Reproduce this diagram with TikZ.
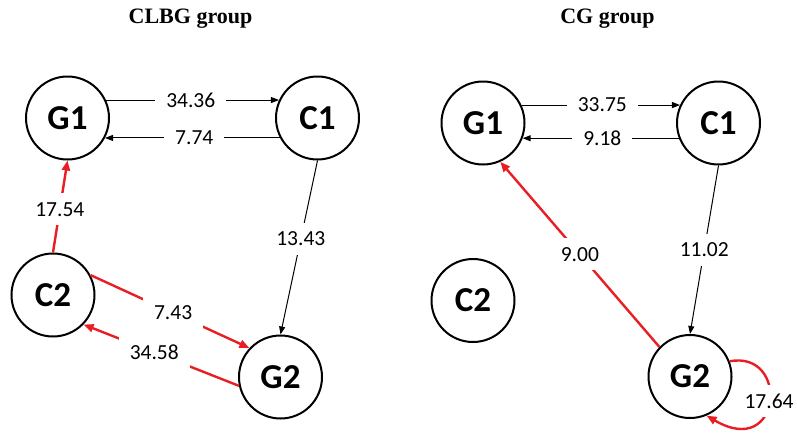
\documentclass[tikz,border=0pt]{standalone}
\usepackage{fontspec}
\setmainfont{Carlito}
\newfontfamily\titlefont{Liberation Serif}
\usetikzlibrary{arrows.meta}
\definecolor{edgered}{RGB}{232,30,36}
\begin{document}
\begin{tikzpicture}[x=1pt,y=-1pt,
  state/.style={circle,draw,line width=2pt,minimum size=83pt,inner sep=0pt,font=\fontsize{35}{35}\selectfont\bfseries},
  lbl/.style={fill=white,text=black,inner xsep=11pt,inner ysep=9pt,font=\fontsize{21.5}{22}\selectfont},
  blk/.style={line width=1pt,-{Triangle[length=8pt,width=6pt]}},
  rd/.style={edgered,line width=2.4pt,-{Triangle[length=10pt,width=8pt]}},
  ttl/.style={font=\titlefont\fontsize{22}{22}\selectfont\bfseries}]
\useasboundingbox (0,0) rectangle (797,432);
% titles
\node[ttl,anchor=base] (t1) at (190.5,23) {CLBG group};
\node[ttl,anchor=base] (t2) at (607.5,23) {CG group};
% left panel
\node[state] (G1) at (67.5,118) {G1};
\node[state] (C1) at (317.5,118) {C1};
\node[state] (C2) at (53,295) {C2};
\node[state] (G2) at (280.5,377) {G2};
\draw[blk] (G1.25) -- node[lbl,pos=0.49] {34.36} (C1.155);
\draw[blk] (C1.208) -- node[lbl,pos=0.49] {7.74} (G1.-28);
\draw[blk] (C1.south) -- node[lbl,pos=0.45] {13.43} (G2.north);
\draw[rd] (C2.north) -- node[lbl,pos=0.47] {17.54} (G1.south);
\draw[rd] (C2.28) -- node[lbl,pos=0.52] {7.43} (G2.137);
\draw[rd] (G2.192) -- node[lbl,pos=0.545] {34.58} (C2.316);
% right panel
\node[state] (G1r) at (483,123) {G1};
\node[state] (C1r) at (718.5,123) {C1};
\node[state] (C2r) at (473,300.5) {C2};
\node[state] (G2r) at (690,376.5) {G2};
\draw[blk] (G1r.25) -- node[lbl,pos=0.51] {33.75} (C1r.155);
\draw[blk] (C1r.201) -- node[lbl,pos=0.49] {9.18} (G1r.-21);
\draw[blk] (C1r.south) -- node[lbl,pos=0.5] {11.02} (G2r.north);
\draw[rd] (G2r.136) -- node[lbl,pos=0.5] {9.00} (G1r.294);
\draw[rd] (G2r.21) .. controls (790,350) and (782,460) .. node[lbl,pos=0.5] {17.64} (G2r.-67);
\end{tikzpicture}
\end{document}
